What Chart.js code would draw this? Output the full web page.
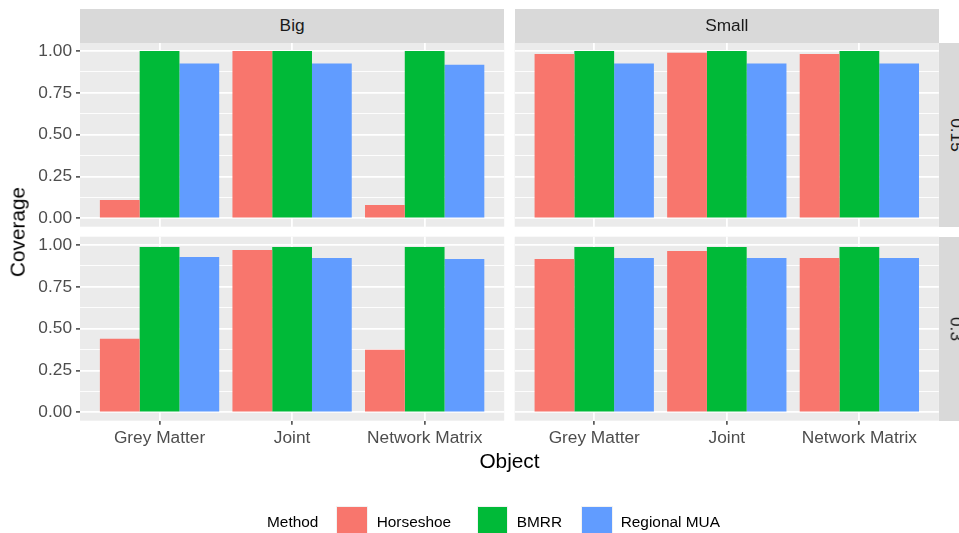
<!DOCTYPE html>
<html>
<head>
<meta charset="utf-8">
<script src="https://cdn.jsdelivr.net/npm/chart.js@4.4.1/dist/chart.umd.min.js"></script>
<style>
  html, body { margin: 0; padding: 0; background: #ffffff; }
  #wrap { position: relative; width: 959px; height: 533px; overflow: hidden;
          font-family: 'Liberation Sans', Arial, Helvetica, sans-serif; }
  #wrap canvas { position: absolute; left: 0; top: 0; }
  .strip { position: absolute; background: #D9D9D9; }
  .txt { position: absolute; white-space: nowrap; line-height: 1; }
  .key { position: absolute; width: 31.5px; height: 31.5px; box-sizing: border-box;
         border: 1px solid #F2F2F2; }
</style>
</head>
<body>
<div id="wrap"></div>
<script>
// ---- data ----
const categories = ['Grey Matter', 'Joint', 'Network Matrix'];
const categoryPositions = [1, 2, 3];
const methods = ['Horseshoe', 'BMRR', 'Regional MUA'];
const methodColors = ['#F8766D', '#00BA38', '#619CFF'];
const sizeLevels = ['Big', 'Small'];
const rateLevels = ['0.15', '0.3'];
const yBreaks = [0, 0.25, 0.5, 0.75, 1];
const yBreakLabels = ['0.00', '0.25', '0.50', '0.75', '1.00'];
const yMinorBreaks = [0.125, 0.375, 0.625, 0.875];

// coverage, Big / 0.15
const horseshoeBig015 = [0.11, 1.00, 0.08];
const bmrrBig015      = [1.00, 1.00, 1.00];
const muaBig015       = [0.926, 0.926, 0.918];
// coverage, Small / 0.15
const horseshoeSmall015 = [0.983, 0.990, 0.983];
const bmrrSmall015      = [1.00, 1.00, 1.00];
const muaSmall015       = [0.926, 0.926, 0.926];
// coverage, Big / 0.3
const horseshoeBig03 = [0.44, 0.97, 0.374];
const bmrrBig03      = [0.988, 0.988, 0.988];
const muaBig03       = [0.928, 0.922, 0.917];
// coverage, Small / 0.3
const horseshoeSmall03 = [0.917, 0.964, 0.922];
const bmrrSmall03      = [0.988, 0.988, 0.988];
const muaSmall03       = [0.922, 0.922, 0.922];

// ---- layout ----
const W = 959, H = 533;
const colLeft = [80, 514.7], colRight = [504.2, 938.9];
const rowTop = [42.7, 236.7], rowBottom = [226.7, 420.7];
const stripSize = 33.7;
const FONT = "'Liberation Sans', Arial, Helvetica, sans-serif";
const wrap = document.getElementById('wrap');

const panelBackground = {
  id: 'panelBackground',
  beforeDraw(chart) {
    const { ctx, chartArea: a } = chart;
    ctx.save();
    ctx.fillStyle = '#EBEBEB';
    ctx.fillRect(a.left, a.top, a.right - a.left, a.bottom - a.top);
    ctx.restore();
  }
};

function makePanel(col, row, series) {
  const canvas = document.createElement('canvas');
  canvas.width = W; canvas.height = H;
  wrap.appendChild(canvas);
  const showY = col === 0, showX = row === 1;
  const xAxisH = showX ? 30 : 0;
  const yAxisW = showY ? colLeft[0] : 0;

  new Chart(canvas, {
    type: 'bar',
    plugins: [panelBackground],
    data: {
      datasets: methods.map((m, k) => ({
        label: m,
        data: series[k].map((v, i) => ({ x: categoryPositions[i], y: v })),
        backgroundColor: methodColors[k],
        borderWidth: 0,
        categoryPercentage: 0.9,
        barPercentage: 1.0
      }))
    },
    options: {
      responsive: false,
      animation: false,
      devicePixelRatio: 1,
      layout: {
        padding: {
          left: showY ? 0 : colLeft[col],
          right: W - colRight[col],
          top: rowTop[row],
          bottom: H - rowBottom[row] - xAxisH
        }
      },
      plugins: { legend: { display: false }, tooltip: { enabled: false } },
      scales: {
        x: {
          type: 'linear',
          min: 0.4, max: 3.6,
          bounds: 'data',
          offset: false,
          afterBuildTicks: s => { s.ticks = categoryPositions.map(v => ({ value: v })); },
          afterFit: s => { s.height = xAxisH; },
          border: { display: false },
          grid: {
            offset: false,
            color: '#FFFFFF',
            lineWidth: 1.8,
            drawTicks: showX,
            tickLength: 4,
            tickColor: '#333333',
            tickWidth: 1.4
          },
          ticks: {
            display: showX,
            autoSkip: false,
            maxRotation: 0, minRotation: 0,
            padding: 3,
            color: '#4D4D4D',
            font: { family: FONT, size: 17.3 },
            callback: v => categories[categoryPositions.indexOf(v)]
          }
        },
        y: {
          type: 'linear',
          min: -0.05, max: 1.05,
          bounds: 'data',
          afterBuildTicks: s => {
            s.ticks = [...yBreaks, ...yMinorBreaks].sort((a, b) => a - b).map(v => ({ value: v }));
          },
          afterFit: s => { s.width = yAxisW; },
          border: { display: false },
          grid: {
            color: '#FFFFFF',
            lineWidth: c => (c.tick && yBreaks.includes(c.tick.value)) ? 1.8 : 0.9,
            drawTicks: showY,
            tickLength: 4,
            tickColor: c => (c.tick && yBreaks.includes(c.tick.value)) ? '#333333' : 'rgba(0,0,0,0)',
            tickWidth: 1.4
          },
          ticks: {
            display: showY,
            autoSkip: false,
            padding: 4,
            color: '#4D4D4D',
            font: { family: FONT, size: 17.3 },
            callback: v => {
              const i = yBreaks.indexOf(v);
              return i >= 0 ? yBreakLabels[i] : '';
            }
          }
        }
      }
    }
  });
}

makePanel(0, 0, [horseshoeBig015, bmrrBig015, muaBig015]);
makePanel(1, 0, [horseshoeSmall015, bmrrSmall015, muaSmall015]);
makePanel(0, 1, [horseshoeBig03, bmrrBig03, muaBig03]);
makePanel(1, 1, [horseshoeSmall03, bmrrSmall03, muaSmall03]);

// ---- facet strips, titles and legend ----
function addText(str, cx, cy, size, color, rotate, anchor) {
  const d = document.createElement('div');
  d.className = 'txt';
  d.textContent = str;
  d.style.left = cx + 'px';
  d.style.top = cy + 'px';
  d.style.fontSize = size + 'px';
  d.style.color = color;
  const tx = anchor === 'left' ? '0' : '-50%';
  d.style.transform = `translate(${tx}, -50%)` + (rotate ? ` rotate(${rotate}deg)` : '');
  if (anchor === 'left') d.style.transformOrigin = '0 50%';
  wrap.appendChild(d);
}
function addBox(cls, x, y, w, h, bg) {
  const d = document.createElement('div');
  d.className = cls;
  d.style.left = x + 'px'; d.style.top = y + 'px';
  if (w != null) { d.style.width = w + 'px'; d.style.height = h + 'px'; }
  if (bg) d.style.background = bg;
  wrap.appendChild(d);
}

sizeLevels.forEach((lv, c) => {
  addBox('strip', colLeft[c], rowTop[0] - stripSize, colRight[c] - colLeft[c], stripSize);
  addText(lv, (colLeft[c] + colRight[c]) / 2, rowTop[0] - stripSize / 2, 17.3, '#1A1A1A');
});
rateLevels.forEach((lv, r) => {
  addBox('strip', colRight[1], rowTop[r], stripSize, rowBottom[r] - rowTop[r]);
  addText(lv, colRight[1] + stripSize / 2, (rowTop[r] + rowBottom[r]) / 2, 17.3, '#1A1A1A', 90);
});

addText('Object', (colLeft[0] + colRight[1]) / 2, 461, 20.8, '#000000');
addText('Coverage', 18.3, (rowTop[0] + rowBottom[1]) / 2, 20.8, '#000000', -90);

// legend
const legendCenterY = 521.7;
const legendKeyX = [336, 476.7, 581];
const legendLabelX = [376.7, 516.7, 620.7];
addText('Method', 267, legendCenterY, 15.4, '#000000', 0, 'left');
methods.forEach((m, k) => {
  addBox('key', legendKeyX[k], legendCenterY - 15.75, null, null, methodColors[k]);
  addText(m, legendLabelX[k], legendCenterY, 15.4, '#000000', 0, 'left');
});
</script>
</body>
</html>
